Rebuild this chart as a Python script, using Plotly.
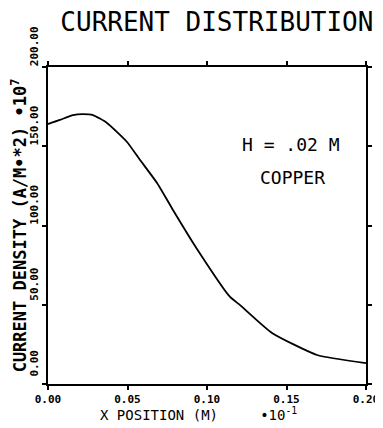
import plotly.graph_objects as go

x_position = [0.0, 0.0075, 0.0157, 0.022, 0.0283, 0.0371, 0.0497, 0.0579, 0.0686,
              0.0786, 0.0937, 0.1145, 0.1208, 0.1409, 0.1692, 0.2]
current_density = [164.0, 166.6, 169.7, 170.3, 169.7, 164.7, 152.7, 141.3, 126.8,
                   109.8, 85.2, 54.9, 49.8, 32.2, 18.3, 13.2]

x_ticks = [0.0, 0.05, 0.10, 0.15, 0.20]
y_ticks = [0, 50, 100, 150, 200]

MONO = "DejaVu Sans Mono, monospace"

fig = go.Figure()
fig.add_trace(go.Scatter(x=x_position, y=current_density, mode="lines",
                         line=dict(color="black", width=1.8, shape="spline", smoothing=0.5),
                         showlegend=False, hoverinfo="skip"))

tick_font = dict(family=MONO, size=11, color="black", weight="bold")
axis_common = dict(showgrid=False, zeroline=False, showline=True, linecolor="black",
                   linewidth=1.8, mirror="ticks", ticks="outside", ticklen=4,
                   tickwidth=1.5, tickcolor="black", tickfont=tick_font,
                   tickformat=".2f", automargin=False)

fig.update_xaxes(range=[0, 0.2], tickvals=x_ticks, **axis_common)
fig.update_yaxes(range=[0, 200], tickvals=y_ticks, tickangle=-90, ticklabelshift=-19,
                 **axis_common,
                 title=dict(text="CURRENT DENSITY (A/M•*2) •10<sup>7</sup>",
                            font=dict(family=MONO, size=17, color="black", weight="bold"),
                            standoff=1))

# x-axis title
fig.add_annotation(x=0.472, y=0, xref="paper", yref="paper", yanchor="middle",
                   yshift=-30, showarrow=False,
                   text="X POSITION (M)\u00a0\u00a0\u00a0\u00a0\u00a0•10<sup>-1</sup>",
                   font=dict(family=MONO, size=14, color="black"))

fig.add_annotation(x=0.153, y=151, xref="x", yref="y",
                   text="H\u00a0=\u00a0.02\u00a0M", showarrow=False,
                   font=dict(family=MONO, size=18, color="black"))
fig.add_annotation(x=0.1535, y=130.5, xref="x", yref="y", text="COPPER", showarrow=False,
                   font=dict(family=MONO, size=18, color="black"))

fig.update_layout(
    width=375, height=420,
    margin=dict(l=40, r=17, t=59, b=44),
    paper_bgcolor="white", plot_bgcolor="white",
    title=dict(text="CURRENT DISTRIBUTION", x=0.557, xanchor="center",
               y=0.968, yanchor="middle",
               font=dict(family=MONO, size=26, color="black")),
)

fig.write_html("out.html")
